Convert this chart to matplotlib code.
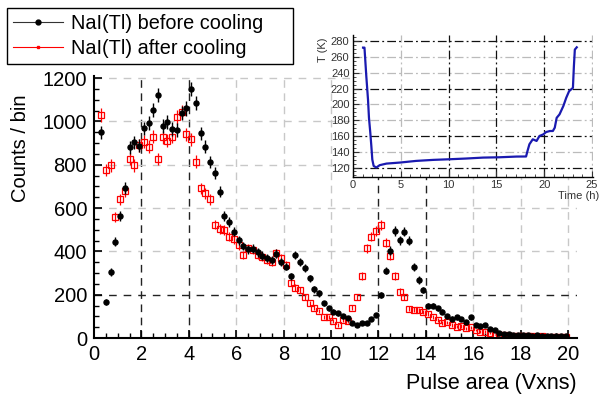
import numpy as np
import matplotlib
matplotlib.use("Agg")
import matplotlib.pyplot as plt
import matplotlib.ticker as ticker
from matplotlib.lines import Line2D

plt.rcParams['font.family'] = ['Liberation Sans', 'DejaVu Sans']

# bin centres of the pulse area histogram (0.2 wide bins)
bin_centres = np.arange(0.1, 20.0, 0.2)

# counts before cooling (black)
before = [np.nan, 950, 166, 306, 445, 562, 692, 880, 905, 888,
          968, 994, 1053, 1122, 978, 999, 966, 960, 1040, 1060,
          1150, 1085, 945, 883, 812, 760, 675, 562, 536, 491,
          452, 425, 410, 412, 395, 380, 368, 360, 390, 352,
          330, 285, 383, 352, 322, 275, 225, 206, 160, 137,
          122, 114, 102, 91, 71, 60, 71, 71, 86, 106,
          199, 311, 403, 495, 452, 491, 449, 329, 268, 222,
          150, 150, 137, 122, 100, 90, 95, 87, 72, 95,
          60, 56, 60, 40, 37, 25, 20, 18, 15, 14,
          12, 12, 10, 12, 10, 9, 10, 8, 9, 10]

# counts after cooling (red)
after = [np.nan, 1030, 778, 797, 560, 640, 678, 826, 797, 891,
         906, 884, 930, 826, 926, 910, 930, 1022, 1042, 940,
         918, 815, 691, 668, 640, 524, 505, 500, 468, 456,
         429, 383, 414, 406, 383, 375, 360, 352, 391, 368,
         337, 255, 233, 222, 190, 160, 140, 125, 98, 98,
         80, 60, 85, 80, 140, 191, 286, 414, 468, 495,
         522, 440, 380, 286, 214, 188, 135, 130, 129, 120,
         112, 96, 83, 70, 72, 60, 52, 55, 45, 50,
         37, 30, 30, 22, 16, 14, 12, 10, 9, 8,
         8, 7, 7, 6, 7, 6, 6, 5, 6, 5]

# temperature log for the inset
time_h = [1.05, 1.2, 1.39, 1.57, 1.67, 1.81, 1.92, 2.02, 2.16, 2.44,
          2.79, 3.5, 4.9, 6.6, 8.4, 10.1, 11.8, 13.6, 15.3, 17.1,
          18.1, 18.25, 18.45, 18.8, 19.2, 19.5, 19.9, 20.2, 20.6, 20.9,
          21.1, 21.3, 21.6, 22.0, 22.3, 22.6, 23.0, 23.1, 23.2, 23.4]
temp_k = [272, 272, 236, 206, 183, 164, 147, 130, 122, 120,
          123, 125, 126.3, 128.4, 129.7, 130.5, 131.4, 132.6, 133, 133.9,
          134, 141, 149.5, 155.8, 153.7, 160, 162, 165, 166.3, 166.3,
          170.5, 183, 187.4, 198, 208.4, 216.8, 221, 248, 269.5, 272.4]

before = np.array(before, dtype=float)
after = np.array(after, dtype=float)

fig = plt.figure(figsize=(6, 3.99), dpi=100)

# main histogram axes
ax = fig.add_axes([94/600, 1-338/399, (577-94)/600, (338-76)/399])
ax.set_xlim(0, 20.38)
ax.set_ylim(0, 1210)

# dashed grid, a few lines darker as in the original
dark_x = [2, 4, 12, 14]
for xv in range(2, 21, 2):
    c = '#222222' if xv in dark_x else '#c8c8c8'
    ax.axvline(xv, color=c, lw=1.0, ls=(0, (5.5, 4)), zorder=0)
for yv in range(200, 1201, 200):
    c = '#222222' if yv == 200 else '#c8c8c8'
    ax.axhline(yv, color=c, lw=1.0, ls=(0, (5.5, 5)), zorder=0)

ax.errorbar(bin_centres, after, yerr=np.sqrt(after), fmt='s', color='red',
            mfc='none', mec='red', ms=4, mew=0.9, elinewidth=0.9, zorder=2)
ax.errorbar(bin_centres, before, yerr=np.sqrt(before), fmt='o', color='black',
            ms=3.6, elinewidth=1.0, zorder=3)

for s in ['top', 'right']:
    ax.spines[s].set_visible(False)
for s in ['left', 'bottom']:
    ax.spines[s].set_linewidth(1.5)

ax.xaxis.set_major_locator(ticker.MultipleLocator(2))
ax.xaxis.set_minor_locator(ticker.MultipleLocator(0.5))
ax.yaxis.set_major_locator(ticker.MultipleLocator(200))
ax.yaxis.set_minor_locator(ticker.MultipleLocator(50))
ax.tick_params(which='major', direction='in', length=6, width=1.2, labelsize=14.5, pad=5)
ax.tick_params(which='minor', direction='in', length=3.5, width=1.0)

fig.text(21/600, 1-94/399, 'Counts / bin', rotation=90, ha='center', va='top', fontsize=14.5)
fig.text(577/600, 1-384/399, 'Pulse area (Vxns)', ha='right', va='center', fontsize=15.5)

# legend
handles = [Line2D([], [], color='#333333', lw=0.8, marker='o', ms=3.5, mfc='black', mec='black'),
           Line2D([], [], color='red', lw=0.8, marker='s', ms=2, mfc='none', mec='red')]
leg = fig.legend(handles, ['NaI(Tl) before cooling', 'NaI(Tl) after cooling'],
                 loc='upper left', bbox_to_anchor=(7/600, 1-63/399, 286/600, 55/399),
                 mode='expand', fontsize=14.3,
                 frameon=True, fancybox=False, edgecolor='black', framealpha=1,
                 handlelength=2.5, borderpad=0.3, labelspacing=0.3, handletextpad=0.4,
                 borderaxespad=0)
leg.get_frame().set_linewidth(1.0)

# inset with temperature
ax2 = fig.add_axes([353/600, 1-177/399, (593-353)/600, (177-35)/399])
ax2.set_xlim(0, 25.1)
ax2.set_ylim(108, 288)
dark_t = [120, 160, 220, 280]
for yv in range(120, 281, 20):
    c = '#111111' if yv in dark_t else '#bbbbbb'
    ax2.axhline(yv, color=c, lw=0.9, ls=(0, (7, 2.5, 1.5, 2.5)), zorder=0)
dark_h = [10, 15, 20]
for xv in range(5, 26, 5):
    c = '#111111' if xv in dark_h else '#bbbbbb'
    ax2.axvline(xv, color=c, lw=0.9, ls=(0, (7, 2.5, 1.5, 2.5)), zorder=0)
ax2.plot(time_h, temp_k, color='#1a1ab0', lw=1.6, zorder=3)

for s in ['top', 'right']:
    ax2.spines[s].set_visible(False)
for s in ['left', 'bottom']:
    ax2.spines[s].set_linewidth(1.0)
ax2.xaxis.set_major_locator(ticker.MultipleLocator(5))
ax2.xaxis.set_minor_locator(ticker.MultipleLocator(1))
ax2.yaxis.set_major_locator(ticker.MultipleLocator(20))
ax2.yaxis.set_minor_locator(ticker.MultipleLocator(5))
ax2.tick_params(which='major', direction='in', length=4, width=0.8, labelsize=8,
                pad=2.5, colors='#333333')
ax2.tick_params(which='minor', direction='in', length=2, width=0.6, colors='#333333')

fig.text(323/600, 1-37/399, 'T (K)', rotation=90, ha='center', va='top', fontsize=8, color='#333333')
fig.text(599/600, 1-191/399, 'Time (h)', ha='right', va='top', fontsize=8, color='#333333')

fig.savefig('out.png', dpi=100)
